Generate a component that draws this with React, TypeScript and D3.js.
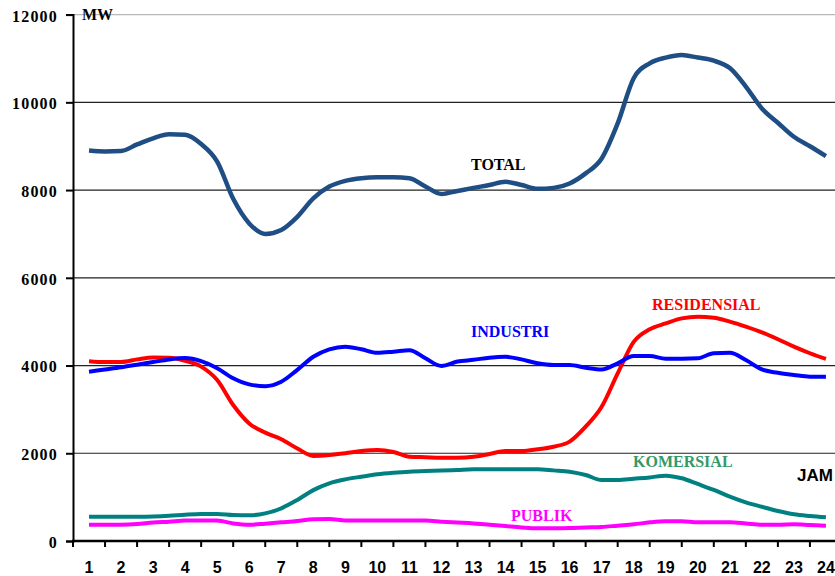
import { useEffect, useRef } from "react";
import * as d3 from "d3";

// half-hour points, hour 1 .. 24
const hours = [
  1, 1.5, 2, 2.5, 3, 3.5, 4, 4.5, 5, 5.5, 6, 6.5, 7, 7.5, 8, 8.5, 9, 9.5, 10,
  10.5, 11, 11.5, 12, 12.5, 13, 13.5, 14, 14.5, 15, 15.5, 16, 16.5, 17, 17.5,
  18, 18.5, 19, 19.5, 20, 20.5, 21, 21.5, 22, 22.5, 23, 23.5, 24,
];

const hourLabels = [
  1, 2, 3, 4, 5, 6, 7, 8, 9, 10, 11, 12, 13, 14, 15, 16, 17, 18, 19, 20, 21,
  22, 23, 24,
];

const yTicks = [0, 2000, 4000, 6000, 8000, 10000, 12000];

const total = [
  8900, 8880, 8890, 9040, 9180, 9270, 9260, 9050, 8650, 7800, 7240, 7000,
  7090, 7390, 7810, 8080, 8210, 8270, 8290, 8290, 8270, 8080, 7910, 7980,
  8050, 8115, 8190, 8115, 8030, 8050, 8150, 8380, 8720, 9520, 10550, 10890,
  11020, 11080, 11020, 10950, 10780, 10360, 9860, 9535, 9215, 9000, 8775,
];

const industri = [
  3860, 3910, 3960, 4020, 4080, 4140, 4170, 4100, 3940, 3710, 3570, 3530,
  3630, 3900, 4200, 4370, 4430, 4370, 4290, 4315, 4350, 4165, 3990, 4090,
  4130, 4180, 4200, 4140, 4050, 4010, 4010, 3950, 3910, 4050, 4215, 4215,
  4155, 4155, 4165, 4280, 4290, 4125, 3910, 3835, 3785, 3745, 3745,
];

const residensial = [
  4100, 4080, 4080, 4140, 4185, 4180, 4110, 3975, 3670, 3100, 2680, 2470,
  2320, 2110, 1940, 1960, 2000, 2050, 2075, 2030, 1920, 1910, 1900, 1900,
  1920, 1985, 2050, 2050, 2090, 2150, 2265, 2605, 3060, 3820, 4540, 4825,
  4960, 5075, 5110, 5090, 5000, 4885, 4755, 4600, 4430, 4280, 4150,
];

const komersial = [
  555, 555, 555, 555, 560, 575, 600, 615, 615, 590, 585, 630, 745, 935, 1160,
  1315, 1405, 1465, 1520, 1555, 1580, 1595, 1605, 1620, 1635, 1635, 1635,
  1635, 1635, 1610, 1580, 1505, 1390, 1390, 1420, 1450, 1490, 1430, 1300,
  1165, 1010, 880, 780, 685, 610, 570, 540,
];

const publik = [
  370, 370, 370, 385, 420, 440, 465, 470, 465, 400, 370, 395, 425, 455, 495,
  500, 470, 465, 465, 465, 465, 465, 440, 420, 400, 370, 340, 310, 290, 290,
  295, 310, 320, 350, 380, 425, 450, 450, 425, 425, 425, 400, 370, 370, 380,
  365, 350,
];

const seriesNames = ["TOTAL", "INDUSTRI", "RESIDENSIAL", "KOMERSIAL", "PUBLIK"];

const App = () => {
  const svgRef = useRef<SVGSVGElement>(null);

  useEffect(() => {
    const width = 835;
    const height = 576;
    const left = 73;
    const bottom = 541;
    const top = 14.6;
    const band = 32.04;

    d3.select(svgRef.current).selectAll("*").remove();
    const svg = d3.select(svgRef.current).attr("width", width).attr("height", height);

    const serif = "'Liberation Serif', 'Times New Roman', serif";
    const sans = "'Liberation Sans', Arial, sans-serif";

    const x = d3
      .scaleLinear()
      .domain([0.5, 24.5])
      .range([left, left + 24 * band]);

    const y = d3.scaleLinear().domain([0, 12000]).range([bottom, top]);

    // grid lines
    svg
      .append("g")
      .selectAll("line")
      .data(yTicks.filter((d) => d > 0))
      .enter()
      .append("line")
      .attr("x1", left)
      .attr("x2", width)
      .attr("y1", (d) => y(d))
      .attr("y2", (d) => y(d))
      .attr("stroke", (d) => (d === 12000 ? "#b8b8b8" : "#222"))
      .attr("stroke-width", 1.2);

    // y axis
    const yAxis = svg
      .append("g")
      .attr("transform", `translate(${left},0)`)
      .call(d3.axisLeft(y).tickValues(yTicks).tickSize(7).tickFormat(d3.format("d")));
    yAxis.select(".domain").attr("stroke", "#000").attr("stroke-width", 2);
    yAxis.selectAll(".tick line").attr("stroke", "#000").attr("stroke-width", 2);
    yAxis
      .selectAll(".tick text")
      .attr("x", -15)
      .attr("dy", "0.4em")
      .style("font-family", serif)
      .style("font-weight", "bold")
      .style("font-size", "16px")
      .style("letter-spacing", "1.2px")
      .attr("fill", "#000");

    // x axis with ticks between hours
    const xAxis = svg.append("g").attr("transform", `translate(0,${bottom})`);
    xAxis
      .append("line")
      .attr("x1", left - 1)
      .attr("x2", width)
      .attr("stroke", "#000")
      .attr("stroke-width", 2.5);
    xAxis
      .selectAll(".tk")
      .data(hourLabels)
      .enter()
      .append("line")
      .attr("class", "tk")
      .attr("x1", (d) => x(d + 0.5))
      .attr("x2", (d) => x(d + 0.5))
      .attr("y1", 0)
      .attr("y2", 6)
      .attr("stroke", "#000")
      .attr("stroke-width", 2);
    xAxis
      .append("line")
      .attr("x1", left)
      .attr("x2", left)
      .attr("y1", 0)
      .attr("y2", 6)
      .attr("stroke", "#000")
      .attr("stroke-width", 2);
    xAxis
      .selectAll(".lbl")
      .data(hourLabels)
      .enter()
      .append("text")
      .attr("class", "lbl")
      .attr("x", (d) => x(d))
      .attr("y", 32)
      .attr("text-anchor", "middle")
      .style("font-family", sans)
      .style("font-weight", "bold")
      .style("font-size", "16px")
      .text((d) => d);

    // lines
    const series = [
      { name: seriesNames[0], values: total, color: "#1F4E85", w: 4.5 },
      { name: seriesNames[1], values: industri, color: "#0000FF", w: 4 },
      { name: seriesNames[2], values: residensial, color: "#FF0000", w: 4 },
      { name: seriesNames[3], values: komersial, color: "#008080", w: 4 },
      { name: seriesNames[4], values: publik, color: "#FF00FF", w: 4 },
    ];

    const line = d3
      .line<number>()
      .x((_, i) => x(hours[i]))
      .y((d) => y(d))
      .curve(d3.curveMonotoneX);

    svg
      .append("g")
      .selectAll("path")
      .data(series.slice().reverse())
      .enter()
      .append("path")
      .attr("fill", "none")
      .attr("stroke", (d) => d.color)
      .attr("stroke-width", (d) => d.w)
      .attr("stroke-linejoin", "round")
      .attr("d", (d) => line(d.values));

    // series labels
    const labels = [
      { text: seriesNames[0], x: 471, y: 170, color: "#000" },
      { text: seriesNames[1], x: 471, y: 337, color: "#0000FF" },
      { text: seriesNames[2], x: 652, y: 310, color: "#FF0000" },
      { text: seriesNames[3], x: 633, y: 467, color: "#339966" },
      { text: seriesNames[4], x: 511, y: 521, color: "#FF00FF" },
    ];
    svg
      .append("g")
      .selectAll("text")
      .data(labels)
      .enter()
      .append("text")
      .attr("x", (d) => d.x)
      .attr("y", (d) => d.y)
      .attr("fill", (d) => d.color)
      .style("font-family", serif)
      .style("font-weight", "bold")
      .style("font-size", "16px")
      .text((d) => d.text);

    // unit labels
    svg
      .append("text")
      .attr("x", 82)
      .attr("y", 20)
      .style("font-family", serif)
      .style("font-weight", "bold")
      .style("font-size", "16px")
      .text("MW");

    svg
      .append("text")
      .attr("x", 797)
      .attr("y", 481)
      .style("font-family", sans)
      .style("font-weight", "bold")
      .style("font-size", "17px")
      .text("JAM");
  }, []);

  return (
    <div style={{ position: "absolute", left: 0, top: 0, background: "#fff" }}>
      <svg ref={svgRef}></svg>
    </div>
  );
};

export default App;
